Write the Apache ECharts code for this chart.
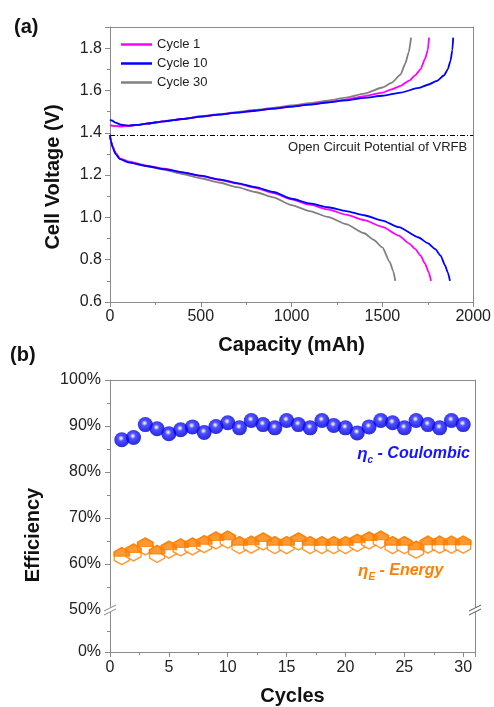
<!DOCTYPE html>
<html><head><meta charset="utf-8">
<script src="https://cdn.jsdelivr.net/npm/echarts@6/dist/echarts.min.js"></script>
<style>html,body{margin:0;padding:0;background:#fff}#c{width:494px;height:707px}</style>
</head><body><div id="c"></div>
<script>
// ---------- Panel (a) data ----------
const c1ChargeCap  = [0,20,60,100,150,200,300,400,500,600,700,800,900,1000,1100,1200,1300,1400,1500,1550,1600,1650,1680,1710,1735,1750,1757];
const c1ChargeV    = [1.435,1.433,1.430,1.432,1.437,1.443,1.454,1.465,1.476,1.486,1.495,1.504,1.514,1.524,1.534,1.545,1.557,1.573,1.590,1.605,1.622,1.648,1.671,1.700,1.750,1.790,1.850];
const c1DisCap     = [0,5,15,30,55,100,200,300,400,500,600,700,800,900,1000,1100,1200,1300,1400,1500,1590,1650,1680,1710,1735,1755,1768];
const c1DisV       = [1.385,1.360,1.335,1.305,1.278,1.265,1.245,1.230,1.213,1.196,1.178,1.160,1.140,1.115,1.085,1.060,1.038,1.013,0.987,0.955,0.914,0.875,0.851,0.820,0.781,0.740,0.700];

const c10ChargeCap = [0,10,30,60,100,150,200,300,400,500,600,700,800,900,1000,1100,1200,1300,1400,1500,1600,1700,1750,1800,1840,1860,1875,1885,1890];
const c10ChargeV   = [1.462,1.458,1.448,1.438,1.434,1.437,1.443,1.454,1.465,1.476,1.486,1.495,1.504,1.514,1.524,1.533,1.543,1.553,1.565,1.575,1.590,1.612,1.627,1.645,1.672,1.700,1.740,1.790,1.850];
const c10DisCap    = [0,5,15,30,55,100,200,300,400,500,600,700,800,900,1000,1100,1200,1300,1400,1500,1590,1700,1750,1790,1820,1845,1860,1872];
const c10DisV      = [1.390,1.360,1.330,1.300,1.275,1.260,1.243,1.228,1.213,1.197,1.180,1.162,1.143,1.120,1.088,1.066,1.048,1.030,1.010,0.985,0.954,0.905,0.878,0.851,0.820,0.773,0.740,0.700];

const c30ChargeCap = [0,20,60,100,150,200,300,400,500,600,700,800,900,1000,1100,1200,1300,1400,1500,1550,1600,1625,1645,1658];
const c30ChargeV   = [1.435,1.433,1.430,1.432,1.437,1.443,1.455,1.466,1.478,1.488,1.498,1.508,1.518,1.529,1.540,1.552,1.566,1.585,1.614,1.636,1.675,1.725,1.780,1.850];
const c30DisCap    = [0,5,15,30,55,100,200,300,400,500,600,700,800,900,1000,1100,1200,1300,1400,1450,1500,1540,1560,1571];
const c30DisV      = [1.385,1.360,1.335,1.305,1.278,1.262,1.242,1.225,1.205,1.185,1.165,1.143,1.120,1.095,1.058,1.030,1.002,0.968,0.925,0.895,0.858,0.790,0.745,0.700];

const ocpVoltage = 1.392;
const legendNames = ['Cycle 1','Cycle 10','Cycle 30'];

// ---------- Panel (b) data ----------
const cycles = [1,2,3,4,5,6,7,8,9,10,11,12,13,14,15,16,17,18,19,20,21,22,23,24,25,26,27,28,29,30];
const coulombic = [87.0,87.5,90.3,89.4,88.3,89.2,89.8,88.6,89.9,90.7,89.6,91.2,90.3,89.6,91.2,90.3,89.6,91.2,90.1,89.6,88.5,89.8,91.2,90.7,89.6,91.2,90.3,89.6,91.2,90.3];
const energy = [61.7,62.5,63.8,62.2,63.1,63.6,63.8,64.3,65.1,65.3,64.1,64.2,64.9,64.1,64.1,64.9,64.1,64.1,64.1,64.1,64.6,65.1,65.3,64.1,64.1,63.1,64.2,64.2,64.2,64.2];

const FONT = '"Liberation Sans", Arial, sans-serif';
const pairs = (xs, ys) => xs.map((x, i) => [x, ys[i]]);

const chart = echarts.init(document.getElementById('c'), null, {renderer: 'canvas'});
const axisGray = '#8a8a8a';
const labelStyle = {fontFamily: FONT, fontSize: 16, color: '#222'};

function borderAxis(gridIndex, position, min, max) {
  return {type: 'value', gridIndex, position, min, max,
    axisLine: {show: true, onZero: false, lineStyle: {color: axisGray, width: 1}},
    axisTick: {show: false}, axisLabel: {show: false}, splitLine: {show: false}};
}

function lineSeries(name, data, color) {
  return {type: 'line', name, data, xAxisIndex: 0, yAxisIndex: 0,
    showSymbol: false, symbol: 'none', smooth: 0.2, smoothMonotone: 'x',
    lineStyle: {color, width: 1.8}, itemStyle: {color}, animation: false, z: 3};
}

const hexPath = 'path://M0,-1 L0.866,-0.5 L0.866,0.5 L0,1 L-0.866,0.5 L-0.866,-0.5 Z';
const hexTopPath = 'path://M0,-1 L0.866,-0.5 L0.866,0 L-0.866,0 L-0.866,-0.5 Z';
const orange = '#ff8000';

const sphere = new echarts.graphic.RadialGradient(0.45, 0.4, 0.6, [
  {offset: 0, color: '#ffffff'},
  {offset: 0.12, color: '#c0c0ff'},
  {offset: 0.32, color: '#2525ff'},
  {offset: 0.75, color: '#0000f0'},
  {offset: 1, color: '#0000b0'}
]);

const option = {
  backgroundColor: '#fff',
  animation: false,
  grid: [
    {left: 110, top: 27, width: 365, height: 275},
    {left: 110, top: 380, width: 365, height: 230},
    {left: 110, top: 610, width: 365, height: 44}
  ],
  legend: {
    data: legendNames.map(n => ({name: n, icon: 'rect'})), orient: 'vertical', left: 116, top: 33,
    itemWidth: 31, itemHeight: 2.5, itemGap: 6,
    textStyle: {fontFamily: FONT, fontSize: 13, color: '#222', lineHeight: 12}
  },
  xAxis: [
    {type: 'value', gridIndex: 0, min: 0, max: 2000, interval: 500,
      name: 'Capacity (mAh)', nameLocation: 'middle', nameGap: 33,
      nameTextStyle: {fontFamily: FONT, fontSize: 20, fontWeight: 'bold', color: '#111'},
      axisLine: {lineStyle: {color: axisGray}, onZero: false},
      axisTick: {show: true, length: 5, lineStyle: {color: axisGray}},
      minorTick: {show: true, splitNumber: 2, length: 3, lineStyle: {color: axisGray}},
      axisLabel: Object.assign({margin: 7, formatter: v => String(v)}, labelStyle),
      splitLine: {show: false}},
    borderAxis(0, 'top', 0, 2000),
    {type: 'value', gridIndex: 1, min: 0, max: 31, show: false, splitLine: {show: false}},
    borderAxis(1, 'top', 0, 31),
    {type: 'value', gridIndex: 2, min: 0, max: 31, interval: 5,
      name: 'Cycles', nameLocation: 'middle', nameGap: 34,
      nameTextStyle: {fontFamily: FONT, fontSize: 20, fontWeight: 'bold', color: '#111'},
      axisLine: {lineStyle: {color: axisGray}, onZero: false},
      axisTick: {show: true, length: 5, lineStyle: {color: axisGray}},
      minorTick: {show: true, splitNumber: 2, length: 3, lineStyle: {color: axisGray}},
      axisLabel: Object.assign({margin: 8, showMaxLabel: false}, labelStyle),
      splitLine: {show: false}}
  ],
  yAxis: [
    {type: 'value', gridIndex: 0, min: 0.6, max: 1.9, interval: 0.2,
      axisLine: {show: true, lineStyle: {color: axisGray}, onZero: false},
      axisTick: {show: true, length: 5, lineStyle: {color: axisGray}},
      minorTick: {show: true, splitNumber: 2, length: 3, lineStyle: {color: axisGray}},
      axisLabel: Object.assign({margin: 8, showMaxLabel: false, formatter: v => v.toFixed(1)}, labelStyle),
      splitLine: {show: false}},
    borderAxis(0, 'right', 0.6, 1.9),
    {type: 'value', gridIndex: 1, min: 50, max: 100, interval: 10,
      axisLine: {show: true, lineStyle: {color: axisGray}, onZero: false},
      axisTick: {show: true, length: 5, lineStyle: {color: axisGray}},
      minorTick: {show: true, splitNumber: 2, length: 3, lineStyle: {color: axisGray}},
      axisLabel: Object.assign({margin: 9, formatter: '{value}%'}, labelStyle),
      splitLine: {show: false}},
    borderAxis(1, 'right', 50, 100),
    {type: 'value', gridIndex: 2, min: 0, max: 50, interval: 50,
      axisLine: {show: true, lineStyle: {color: axisGray}, onZero: false},
      axisTick: {show: true, length: 5, lineStyle: {color: axisGray}},
      minorTick: {show: true, splitNumber: 2, length: 3, lineStyle: {color: axisGray}},
      axisLabel: Object.assign({margin: 9, formatter: '{value}%', showMaxLabel: false}, labelStyle),
      splitLine: {show: false}},
    borderAxis(2, 'right', 0, 50)
  ],
  series: [
    lineSeries('Cycle 30', pairs(c30ChargeCap, c30ChargeV), '#808080'),
    lineSeries('Cycle 30', pairs(c30DisCap, c30DisV), '#808080'),
    lineSeries('Cycle 1', pairs(c1ChargeCap, c1ChargeV), '#ff00ff'),
    lineSeries('Cycle 1', pairs(c1DisCap, c1DisV), '#ff00ff'),
    Object.assign(lineSeries('Cycle 10', pairs(c10ChargeCap, c10ChargeV), '#0000ff'), {
      markLine: {silent: true, symbol: 'none', animation: false,
        data: [{yAxis: ocpVoltage}],
        lineStyle: {color: '#000', type: [5, 2, 1, 2], width: 1},
        label: {show: true, position: 'insideEndBottom', distance: [6, 6],
          formatter: 'Open Circuit Potential of VRFB',
          fontFamily: FONT, fontSize: 13, color: '#222'}}
    }),
    lineSeries('Cycle 10', pairs(c10DisCap, c10DisV), '#0000ff'),
    {type: 'scatter', name: 'Coulombic', xAxisIndex: 2, yAxisIndex: 2,
      data: pairs(cycles, coulombic), symbol: 'circle', symbolSize: 15,
      itemStyle: {color: sphere}, animation: false, z: 4},
    {type: 'scatter', name: 'Energy', xAxisIndex: 2, yAxisIndex: 2,
      data: pairs(cycles, energy), symbol: hexPath, symbolSize: [15, 17],
      itemStyle: {color: '#fff', borderColor: orange, borderWidth: 1.4}, animation: false, z: 4},
    {type: 'scatter', name: 'EnergyTop', xAxisIndex: 2, yAxisIndex: 2,
      data: pairs(cycles, energy), symbol: hexTopPath, symbolSize: [15, 8.5], symbolOffset: [0, -4.25],
      itemStyle: {color: orange, borderColor: orange, borderWidth: 1.4}, animation: false, z: 5}
  ]
};
chart.setOption(option);

// Decorations: panel labels, y-axis titles, annotations, axis break marks
const pL = chart.convertToPixel({xAxisIndex: 2, yAxisIndex: 2}, [0, 50]);
const pR = chart.convertToPixel({xAxisIndex: 2, yAxisIndex: 2}, [31, 50]);
function breakMark(p, color) {
  const [x, y] = p;
  return [
    {type: 'polygon', z: 100, shape: {points: [[x - 6, y + 1], [x + 6, y - 5], [x + 6, y - 1], [x - 6, y + 5]]}, style: {fill: '#fff'}},
    {type: 'line', z: 101, shape: {x1: x - 6, y1: y + 1, x2: x + 6, y2: y - 5}, style: {stroke: color, lineWidth: 1}},
    {type: 'line', z: 101, shape: {x1: x - 6, y1: y + 5, x2: x + 6, y2: y - 1}, style: {stroke: color, lineWidth: 1}}
  ];
}
const titleStyle = {fontFamily: FONT, fontSize: 20, fontWeight: 'bold', fill: '#111'};
chart.setOption({
  graphic: [
    {type: 'text', left: 14, top: 17, style: Object.assign({text: '(a)'}, titleStyle)},
    {type: 'text', left: 10, top: 345, style: Object.assign({text: '(b)'}, titleStyle)},
    {type: 'text', x: 53, y: 177, rotation: Math.PI / 2,
      style: Object.assign({text: 'Cell Voltage (V)', align: 'center', verticalAlign: 'middle'}, titleStyle)},
    {type: 'text', x: 33, y: 535, rotation: Math.PI / 2,
      style: Object.assign({text: 'Efficiency', align: 'center', verticalAlign: 'middle'}, titleStyle)},
    {type: 'text', x: 470, y: 454, style: {
      text: '{e|η}{s|c}{t| - Coulombic}', align: 'right', verticalAlign: 'middle',
      rich: {
        e: {fontFamily: FONT, fontSize: 17, fontStyle: 'italic', fontWeight: 'bold', fill: '#1515ff', lineHeight: 20},
        s: {fontFamily: FONT, fontSize: 10, fontStyle: 'italic', fontWeight: 'bold', fill: '#1515ff', lineHeight: 20, padding: [12, 0, 0, 0]},
        t: {fontFamily: FONT, fontSize: 16, fontStyle: 'italic', fontWeight: 'bold', fill: '#1515ff', lineHeight: 20}
      }}},
    {type: 'text', x: 358, y: 571, style: {
      text: '{e|η}{s|E}{t| - Energy}', align: 'left', verticalAlign: 'middle',
      rich: {
        e: {fontFamily: FONT, fontSize: 17, fontStyle: 'italic', fontWeight: 'bold', fill: orange, lineHeight: 20},
        s: {fontFamily: FONT, fontSize: 10, fontStyle: 'italic', fontWeight: 'bold', fill: orange, lineHeight: 20, padding: [12, 0, 0, 0]},
        t: {fontFamily: FONT, fontSize: 16, fontStyle: 'italic', fontWeight: 'bold', fill: orange, lineHeight: 20}
      }}}
  ].concat(breakMark(pL, axisGray), breakMark(pR, '#555'))
});
</script></body></html>
